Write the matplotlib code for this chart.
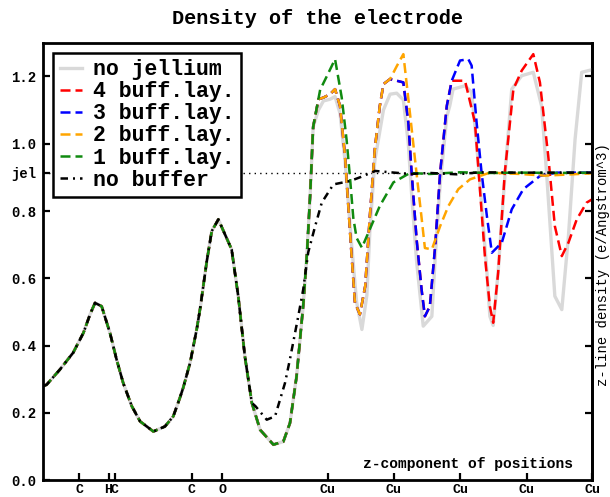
import matplotlib
matplotlib.use("Agg")
import matplotlib.pyplot as plt

# ---------------- data (z in Angstrom, density in e/Angstrom^3) ----------------
# common part shared by all jellium curves
x_head = [0.00, 0.10, 0.50, 0.90, 1.21, 1.41, 1.56, 1.76, 2.01, 2.21, 2.41, 2.67,
          2.92, 3.32, 3.67, 3.92, 4.12, 4.22, 4.43, 4.63, 4.73, 4.93, 5.08, 5.28,
          5.68, 5.88, 6.08, 6.29]
rho_head = [0.280, 0.284, 0.329, 0.379, 0.438, 0.493, 0.527, 0.517, 0.438, 0.359,
            0.289, 0.220, 0.175, 0.145, 0.160, 0.190, 0.245, 0.275, 0.350, 0.450,
            0.510, 0.650, 0.740, 0.775, 0.686, 0.547, 0.368, 0.230]

x_jel_mid = [6.54, 6.94, 7.24, 7.44, 7.64, 7.84, 7.95, 8.05, 8.14]
rho_jel_mid = [0.150, 0.106, 0.115, 0.170, 0.309, 0.520, 0.670, 0.850, 1.050]

# red / blue / orange share the first Cu layer
x_rbo = [8.30, 8.45, 8.65, 8.80, 8.95, 9.10, 9.20, 9.30, 9.40, 9.55, 9.71, 9.85,
         10.00, 10.15, 10.26, 10.46]
rho_rbo = [1.132, 1.137, 1.147, 1.162, 1.112, 0.964, 0.815, 0.666, 0.527, 0.493,
           0.577, 0.785, 0.984, 1.112, 1.177, 1.192]

# red / blue share the second Cu layer
x_rb = [10.86, 11.01, 11.11, 11.26, 11.41, 11.51, 11.66, 11.82, 11.97, 12.17, 12.32]
rho_rb = [1.182, 1.063, 0.914, 0.716, 0.567, 0.487, 0.517, 0.696, 0.914, 1.112, 1.187]

x_buf4 = [12.72, 13.02, 13.17, 13.32, 13.47, 13.57, 13.72, 13.92, 14.18, 14.43,
          14.78, 14.98, 15.23, 15.43, 15.64, 15.84, 16.09, 16.39, 16.56]
rho_buf4 = [1.187, 1.063, 0.865, 0.666, 0.517, 0.468, 0.617, 0.914, 1.162, 1.217,
            1.266, 1.182, 0.964, 0.755, 0.666, 0.706, 0.775, 0.825, 0.835]

x_buf3 = [12.57, 12.82, 12.92, 13.07, 13.22, 13.38, 13.53, 13.83, 14.13, 14.48,
          14.98, 15.49, 16.56]
rho_buf3 = [1.247, 1.251, 1.232, 1.063, 0.914, 0.785, 0.676, 0.706, 0.805, 0.865,
            0.904, 0.914, 0.914]

x_buf2 = [10.66, 10.86, 11.06, 11.26, 11.41, 11.51, 11.72, 11.97, 12.22, 12.52,
          12.87, 13.47, 14.38, 15.13, 16.56]
rho_buf2 = [1.230, 1.266, 1.090, 0.910, 0.780, 0.690, 0.686, 0.755, 0.815, 0.865,
            0.894, 0.914, 0.910, 0.905, 0.912]

x_buf1 = [8.35, 8.55, 8.80, 9.00, 9.15, 9.25, 9.35, 9.45, 9.61, 9.85, 10.15, 10.56,
          11.06, 11.66, 12.57, 13.50, 14.50, 15.50, 16.56]
rho_buf1 = [1.160, 1.200, 1.251, 1.138, 1.010, 0.900, 0.780, 0.720, 0.691, 0.746,
            0.815, 0.885, 0.913, 0.910, 0.915, 0.913, 0.914, 0.913, 0.914]

x_nojel = [8.30, 8.45, 8.65, 8.80, 8.95, 9.10, 9.30, 9.45, 9.61, 9.76, 9.85, 10.00,
           10.26, 10.46, 10.66, 10.86, 11.01, 11.11, 11.26, 11.46, 11.72, 11.82,
           11.97, 12.17, 12.26, 12.36, 12.72, 12.92, 13.07, 13.22, 13.38, 13.47,
           13.57, 13.72, 13.92, 14.13, 14.43, 14.78, 15.03, 15.18, 15.43, 15.64,
           15.84, 16.04, 16.24, 16.44, 16.56]
rho_nojel = [1.100, 1.127, 1.132, 1.140, 1.090, 0.950, 0.700, 0.530, 0.448, 0.550,
             0.740, 0.950, 1.100, 1.147, 1.150, 1.130, 1.000, 0.850, 0.650, 0.458,
             0.487, 0.660, 0.880, 1.080, 1.112, 1.162, 1.172, 1.153, 1.000, 0.820,
             0.620, 0.487, 0.460, 0.620, 0.900, 1.162, 1.202, 1.212, 1.112, 0.914,
             0.547, 0.507, 0.726, 1.013, 1.212, 1.217, 1.220]

x_nobuf = [6.40, 6.74, 6.99, 7.29, 7.44, 7.69, 7.84, 7.99, 8.20, 8.40, 8.75, 9.25,
           9.55, 10.01, 10.47, 11.06, 11.66, 12.47, 13.17, 14.38, 15.59, 16.56]
rho_nobuf = [0.220, 0.180, 0.190, 0.289, 0.360, 0.487, 0.567, 0.677, 0.755, 0.825,
             0.879, 0.889, 0.900, 0.919, 0.915, 0.910, 0.913, 0.909, 0.915, 0.914,
             0.914, 0.914]

jel_level = 0.914
atom_pos = [1.08, 1.97, 2.16, 4.48, 5.39, 8.58, 10.57, 12.57, 14.58, 16.56]
atom_lab = ["C", "H", "C", "C", "O", "Cu", "Cu", "Cu", "Cu", "Cu"]
y_ticks = [0.0, 0.2, 0.4, 0.6, 0.8, 1.0, 1.2, jel_level]
y_tick_labels = ["0.0", "0.2", "0.4", "0.6", "0.8", "1.0", "1.2", "jel"]
labels = ["no jellium", "4 buff.lay.", "3 buff.lay.", "2 buff.lay.", "1 buff.lay.", "no buffer"]

# ---------------- assemble series ----------------
base_x = x_head + x_jel_mid
base_y = rho_head + rho_jel_mid
series = {
    "no jellium": (base_x + x_nojel, base_y + rho_nojel),
    "4 buff.lay.": (base_x + x_rbo + x_rb + x_buf4, base_y + rho_rbo + rho_rb + rho_buf4),
    "3 buff.lay.": (base_x + x_rbo + x_rb + x_buf3, base_y + rho_rbo + rho_rb + rho_buf3),
    "2 buff.lay.": (base_x + x_rbo + x_buf2, base_y + rho_rbo + rho_buf2),
    "1 buff.lay.": (base_x + x_buf1, base_y + rho_buf1),
    "no buffer": (x_head + x_nobuf, rho_head + rho_nobuf),
}

FONT = "Liberation Mono"
plt.rcParams["font.family"] = [FONT, "DejaVu Sans"]
plt.rcParams["font.weight"] = "bold"

fig = plt.figure(figsize=(6.10, 4.97), dpi=100)
ax = fig.add_axes([0.071, 0.0336, 0.900, 0.8805])

styles = {
    "no jellium": dict(color="#d9d9d9", lw=2.4, ls="-"),
    "4 buff.lay.": dict(color="#ff0000", lw=1.8, dashes=(4, 2)),
    "3 buff.lay.": dict(color="#0000ff", lw=1.8, dashes=(4, 2)),
    "2 buff.lay.": dict(color="#ffa500", lw=1.8, dashes=(4, 2)),
    "1 buff.lay.": dict(color="#108a10", lw=1.8, dashes=(4, 2)),
    "no buffer": dict(color="black", lw=1.8, dashes=(3, 2, 0.8, 2)),
}

ax.plot([0, atom_pos[-1]], [jel_level, jel_level], color="black", lw=1.0,
        dashes=(1, 3), zorder=1)

handles = []
for name in labels:
    xs, ys = series[name]
    h, = ax.plot(xs, ys, label=name, zorder=2, **styles[name])
    handles.append(h)

ax.set_xlim(0, atom_pos[-1])
ax.set_ylim(0, 1.30)

ax.set_xticks(atom_pos)
ax.set_xticklabels(atom_lab)
ax.set_yticks(y_ticks)
ax.set_yticklabels(y_tick_labels)
ax.tick_params(axis="both", direction="in", length=5, width=1.6, labelsize=10)
ax.tick_params(axis="x", pad=2.5, labelsize=9.5)
ax.tick_params(axis="y", pad=5)
for lab in ax.get_xticklabels() + ax.get_yticklabels():
    lab.set_fontweight("bold")
for sp in ax.spines.values():
    sp.set_linewidth(2.0)

sec = ax.secondary_yaxis("right")
sec.set_yticks([0.2, 0.4, 0.6, 0.8, 1.0, 1.2])
sec.set_yticklabels([])
sec.tick_params(direction="in", length=5, width=1.6)
sec.spines["right"].set_linewidth(2.0)

leg = ax.legend(handles=handles, loc="upper left", bbox_to_anchor=(0.018, 0.977),
                borderaxespad=0, fancybox=False, framealpha=1, edgecolor="black",
                prop={"family": FONT, "weight": "bold", "size": 15.5},
                handlelength=1.05, handletextpad=0.5, labelspacing=0.05,
                borderpad=0.3)
leg.get_frame().set_linewidth(1.8)
leg.set_zorder(5)

ax.text(0.965, 0.038, "z-component of positions", transform=ax.transAxes,
        ha="right", va="center", fontsize=10.5, fontweight="bold", family=FONT)

fig.text(0.5205, 0.962, "Density of the electrode", ha="center", va="center",
         fontsize=14.5, fontweight="bold", family=FONT)
fig.text(0.988, 0.468, "z-line density (e/Angstrom^3)", rotation=90,
         ha="center", va="center", fontsize=10, fontweight="normal", family=FONT)

fig.savefig("out.png", dpi=100)
